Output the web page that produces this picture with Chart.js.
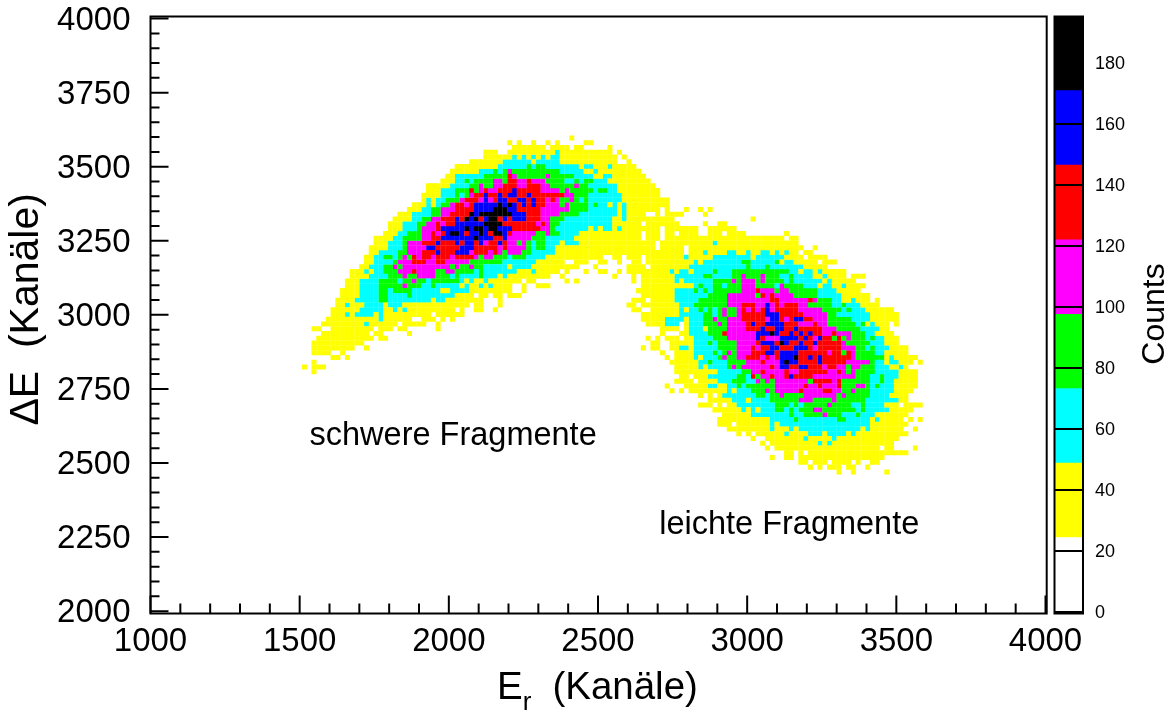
<!DOCTYPE html>
<html>
<head>
<meta charset="utf-8">
<title>Er - dE</title>
<script src="https://cdn.jsdelivr.net/npm/chart.js@4"></script>
<style>
  html, body { margin: 0; padding: 0; background: #fff; }
  #wrap { position: relative; width: 1172px; height: 715px; overflow: hidden; }
  #wrap canvas { position: absolute; top: 0; }
</style>
</head>
<body>
<div id="wrap">
  <canvas id="main" width="1172" height="715" style="left:0"></canvas>
  <canvas id="bar" width="122" height="715" style="left:1050px"></canvas>
</div>
<script>
const xMajorTicks = [1000, 1500, 2000, 2500, 3000, 3500, 4000];
const xMinorTicks = [1100, 1200, 1300, 1400, 1600, 1700, 1800, 1900, 2100, 2200, 2300, 2400, 2600, 2700, 2800, 2900, 3100, 3200, 3300, 3400, 3600, 3700, 3800, 3900];
const yMajorTicks = [2000, 2250, 2500, 2750, 3000, 3250, 3500, 3750, 4000];
const yMinorTicks = [2050, 2100, 2150, 2200, 2300, 2350, 2400, 2450, 2550, 2600, 2650, 2700, 2800, 2850, 2900, 2950, 3050, 3100, 3150, 3200, 3300, 3350, 3400, 3450, 3550, 3600, 3650, 3700, 3800, 3850, 3900, 3950];
const countTicks = [0, 20, 40, 60, 80, 100, 120, 140, 160, 180];
const countLevels = [0, 24.4, 48.8, 73.2, 97.6, 122, 146.5, 170.9, 195.3];
const levelCodes = ["w", "y", "c", "g", "m", "r", "b", "k"];
const levelColors = ["#ffffff", "#ffff00", "#00ffff", "#00ff00", "#ff00ff", "#ff0000", "#0000ff", "#000000"];

// histogram bins
const binStartX = 1012, binWidthX = 16;
const binStartY = 3605, binHeightY = 16.1;

// one string per row from the top: colour band + column range
const rowRuns = [
  "y87",
  "y74 y76 y79 y82 y84 y90-91",
  "y75-81 y83-86 y88-89 y95",
  "y69-71 y74-83 c84 y85-95 y97",
  "y69-74 c75 y76 c77 y78 c79 y80 c81 y82 c83-84 y85-96 y98",
  "y66-72 c73-78 y79 c80-84 y85-96 y99",
  "y63-71 c72-77 g78 c79 g80-81 c82-88 y89 c90-91 y92-94 c95 y96-100",
  "y62-67 c68-70 g71 c72 g73 m74 g75-84 c85-89 y90-91 c92 y93-101",
  "y61-62 c63-68 g69-73 r74 m75 g76-81 m82 g83-87 c88-91 y92-93 c94-95 y96-102",
  "y60-62 c63-64 g65 c66 g67-70 m71-72 g73 r74-75 m76-77 r78 m79-81 g82-85 c86-87 g88 c89 g90-91 c92-94 y95-103",
  "y57-61 c62-65 g66-67 m68 g69-70 m71-72 r73-75 m76-77 r78-80 m81-82 g83-87 m88 g89-90 c91-96 y97-104",
  "y57-59 c60-62 g63-65 r66 g67 m68 r69 m70-71 r72-74 b75 r76-80 m81-84 g85 m86 g87-91 c92 g93-94 c95-96 y97-105",
  "y56-59 c60-62 g63 c64 g65 m66 r67-68 b69 r70-71 b72 r73 b74-75 r76-77 b78 r79-85 m86-87 g88-90 c91-97 y98-105",
  "y56 c57 y58 c59-60 g61-63 m64 r65-67 m68 b69 m70 r71 b72-73 r74-75 b76-77 r78 b79 r80-81 m82 r83 m84 g85-86 m87 g88 c89 g90 c91-97 y98-107",
  "y54-56 c57 y58 c59 g60-61 m62 r63-64 m65 r66 b67-71 k72 b73 k74 b75 r76 b77 r78 b79 r80-81 m82-84 g85 m86 g87-90 c91 g92 c93-94 y95 c96 y97 c98 y99-107",
  "y53-55 c56-57 g58-59 m60-62 r63-66 b67-70 k71-73 b74-75 r76-80 m81-86 g87-90 c91-96 y97 c98 y99-105 y107 y111 y114 y116",
  "y51-53 c54-57 g58-59 m60-61 r62-65 k66 b67 k68-74 b75-77 r78-80 m81-84 g85-88 c89-96 y97 c98 y99-102 y105 y107-110 y115",
  "y50-53 c54-55 g56-57 m58-59 r60-62 b63 r64 k65 b66 k67 r68 b69 k70-71 r72 b73 r74 b75-77 r78-80 m81-82 g83-85 c86-95 y96-97 c98 y99-108 y125",
  "y49-51 c52-54 g55-56 m57-58 r59 m60 r61-62 b63-68 k69-72 r73-79 m80 r81 m82 g83-84 c85-95 y96-101 y103-109 y115 y118-119",
  "y49-51 c52-54 g55 m56-58 r59 b60-64 k65 b66 k67-68 b69 k70-71 b72-74 r75-80 m81-82 g83 c84-90 y91 c92 y93 c94-95 y96 c97 y98-105 y107-113 y116-121",
  "y48-50 c51-52 g53-55 m56-57 r58 m59 r60 b61 k62-63 b64 r65 b66-67 k68 b69 r70 k71-72 b73 r74 m75-79 g80-81 m82 g83-84 c85-88 y89-101 y103-105 y107-108 y110-113 y116-118 y120-123 y132",
  "y46-49 c50-51 g52-55 m56-57 r58-59 b60-66 k67 b68-70 r71-72 b73 m74-78 g79-81 c82-87 y88-101 y103-105 y107-131 y133-134",
  "y46-48 c49-51 g52 m53-55 r56-58 b59 r60-62 b63 r64 b65-66 r67 b68 m69 r70-71 b72 r73 m74-75 g76 m77 g78 c79 g80-81 c82-84 y85 c86-88 y89-104 y106-116 c117 y118-134",
  "y45-48 c49-51 g52 m53-56 b57-58 r59-63 b64-66 r67-71 m72 r73 m74-77 g78 c79 g80-81 c82-83 y84-104 y106-110 y112-135 y138",
  "y45-46 c47-50 g51-52 m53-55 r56-58 b59 r60-62 b63-65 m66 r67-69 m70 r71 m72 g73 m74-76 g77-78 c79-83 y84-110 y112-114 c115 y116-119 c120-121 y122-123 c124 y125-126 c127-128 y129 c130 y131 c132 y133-134 y136-137",
  "y44-45 c46-47 g48-49 c50 g51 m52 g53 r54 m55 r56-57 m58 r59-61 m62 r63-66 m67 g68 m69-70 g71-73 c74 g75-77 c78-81 y82-93 y96-97 y99-101 y103-110 c111 y112-116 c117-124 y125 c126-131 y132-135 y137-140",
  "y44-45 c46-49 g50 m51-53 r54-56 m57-58 r59-60 m61-65 g66-72 c73-79 y80-85 y88-90 y93-94 y97 y100-101 y103-112 c113 y114 c115-122 g123-124 c125-129 g130 y131 c132-133 y134-138 y140-142",
  "y43-44 c45-47 g48-49 m50 g51 m52-61 g62 m63 g64-65 m66 g67-68 c69-73 y74 c75-78 y79-88 y92 y99-102 y104-111 c112-123 g124 c125-127 g128 c129-135 y136-140",
  "y41-43 c44 y45 c46-47 g48-50 m51-53 r54 m55-58 g59-60 m61-62 g63-66 c67 g68 c69-75 y76-78 c79 y80-84 y86 y90 y93-94 y97 y99-107 c108 y109 c110-111 y112 c113-116 g117 c118-120 g121-132 c133-134 y135 c136-137 y138 c139 y140-144",
  "y41-44 c45-48 g49-51 m52 g53-54 m55-58 g59-61 c62 g63 c64-67 g68 c69-71 y72 c73 y74-82 y85 y96 y100 y102-108 c109-114 g115-116 c117-120 g121-122 m123 g124-126 m127 g128-130 c131-132 g133 c134-137 y138-139 c140 y141-144 y146-148",
  "y40-42 c43-46 g47-50 c51 g52-53 m54 g55-56 c57 g58-63 c64 y65 c66 y67-68 c69 y70-76 y78-79 y86 y88 y100 y102-108 c109 y110 c111-116 g117-120 m121 g122 m123-125 g126 m127 g128-131 c132 g133 c134-139 y140 c141 y142-146",
  "y40-42 c43-46 g47-51 m52 g53-55 c56-57 g58 c59-63 y64 c65 y66-67 c68 y69 c70 y71-74 y77 y80-82 y102-112 c113 g114 c115-116 g117-118 c119 g120-122 m123-125 g126-129 c130 m131 g132-135 c136-138 y139 c140-141 y142-143 c144 y145-148",
  "y39-42 c43-46 g47-48 c49 g50-53 c54-59 y60-61 c62-65 y66-74 y77 y101-108 c109-112 g113 c114 g115 c116 g117-122 m123-125 r126 m127-129 g130 m131-132 g133-138 c139-142 y143-147",
  "y39-42 c43-46 g47-48 c49-52 g53 c54-62 y63-66 y68-69 y71-72 y74-76 y102-108 c109-115 g116-119 m120-125 g126 r127 m128 r129 m130-133 g134-138 c139-143 y144-149",
  "y38-41 c42-46 g47-48 c49-57 y58 c59-60 y61-68 y72 y100-101 y102 y104-108 c109-113 g114-119 m120-128 r129-130 m131-136 r137 m138 g139-141 c142-143 y144-145 c146 y147-149 y151",
  "y38-39 c40 y41-43 c44-47 y48 c49-51 y52-65 y67-68 y72 y99-100 y102-109 c110-112 g113-119 m120-122 r123-125 m126-127 b128 m129 r130 m131 r132-134 m135-136 g137-141 c142-143 g144 c145-147 y148-151",
  "y37-42 c43-47 y48-49 c50 y51 c52 y53-62 y64 y67-68 y71 y100-101 y104-109 c110 y111 c112-113 g114 c115 g116 c117 g118 m119 g120-121 m122 r123 m124 r125 m126 r127 b128 m129 r130-134 m135-139 g140-143 c144 g145 c146-148 y149-154",
  "y37-39 c40 y41 c42-45 y46 c47 y48-57 y59-64 y102-109 c110-114 g115-116 c117 g118 m119 g120-121 m122 r123-127 b128-130 r131-135 m136-140 g141-142 c143-149 y150-155",
  "y36-46 c47 y48-53 y56-58 y60 y62 y102-106 c107-110 y111 c112-114 g115-116 m117 g118-119 m120-122 r123-127 m128 b129-130 r131 m132 r133 b134-135 r136-137 m138-140 g141-145 c146-149 y150-155",
  "y35-43 c44 y45-50 y52-56 y59 y103-106 c107-109 y111 c112-114 g115-117 m118 g119 m120-123 r124 b125 r126-127 b128-131 r132-134 m135-137 r138 m139-140 g141-146 c147 g148 y149 c150 y151-153 y155",
  "y33-34 y37-45 y47-49 y51-52 y59 y106-109 y111 c112-114 y115 g116-119 m120-123 r124-126 b127 r128-129 b130-131 r132-133 b134 r135-139 m140-142 g143-147 c148-151 y152-153",
  "y35-44 y46-47 y53 y106 y110-111 c112-115 g116-118 r119 m120-125 b126-128 k129 b130 r131-132 b133 r134 b135 r136 b137 r138-139 m140-141 r142 m143-145 g146-148 c149-150 y151-154",
  "y34-45 y47-48 y103 y105 y107-109 y111-112 c113-116 g117-119 m120-125 b126 r127 m128-130 b131-134 r135 b136 r137 m138 b139 r140-141 g142 r143 g144 m145 g146-148 c149 g150 c151-152 y153-155",
  "y33-43 y104-105 y108-112 c113-115 g116 c117 g118-121 m122-125 r126 b127-129 r130 k131 b132 r133-134 b135 r136-137 b138 r139-143 m144 g145-149 c150-152 y153-155",
  "y33-41 y44 y102 y104-105 y108-109 c110-111 y112 c113-117 g118-121 m122-124 r125 m126 r127-128 b129-130 r131-133 b134-136 r137 m138 r139-143 m144-146 g147-148 c149 g150 c151-153 y154-157",
  "y33-36 y39 y106 y109-112 c113-116 g117 c118 g119 m120 g121 m122-124 r125-127 b128-129 r130 b131-134 r135-140 m141 r142-143 g144 r145 m146 g147-150 c151-152 y153-157",
  "y37-38 y40 y107 y109-112 c113 y114 c115-117 g118 m119 g120-121 m122-123 r124-126 m127 r128 m129 r130 b131-133 k134 r135-136 b137 r138 b139 r140-145 m146 g147-152 y153 c154 y155-159",
  "y33 y108-113 c114-115 g116 c117-119 g120-123 m124-126 r127 m128-130 b131 k132 b133-134 r135-138 b139 r140-144 m145-149 g150 c151-152 y153 c154-155 y156-158 y160",
  "y31 y33-35 y109-113 c114 y115 c116-119 g120 m121 g122 m123-128 r129 m130 b131-132 r133-134 b135-136 r137-139 m140 r141-142 m143-144 g145 m146-147 g148-150 c151-153 y154-155 c156 y157",
  "y33 y109-117 c118-122 g123-124 m125-126 r127 m128-131 r132 m133-134 r135-140 m141-142 r143 m144 g145 m146 g147-150 c151-155 y156-159",
  "y110-111 y113-115 c116-121 g122-123 c124 r125 g126 m127-128 r129 m130-131 r132 b133 r134-137 m138-146 g147-149 c150-151 g152 c153-155 y156-159",
  "y109-112 y114-117 c118-120 g121-123 c124-125 m126 g127 m128 g129 m130-136 g137 r138-141 m142 r143 g144-149 c150-151 g152 c153-154 y155-159",
  "y107 y111-115 c116-117 y118-119 c120-121 g122 c123 g124-129 m130-135 r136 m137-138 r139 m140-142 r143 g144-146 m147-148 g149 c150 g151 c152-154 y155-159",
  "y108 y110 y112-119 c120 y121 c122-124 g125-127 m128 g129 m130-134 r135 m136-139 r140-141 m142-143 g144-145 m146 g147-149 c150-154 y155-158",
  "y114 y116 y118 c119-125 g126-127 c128 g129-130 m131 g132-135 m136-142 g143 m144 g145-149 c150-153 y154-157",
  "y116-120 c121-123 y124 c125-128 g129-134 m135-137 g138-141 m142 g143-148 c149-155 y156-157",
  "y114-116 y118 y120-121 c122-129 g130-132 c133 g134 c135 g136-140 m141 g142-145 c146-147 g148 c149-152 y153-155 y157-160",
  "y117-122 c123 y124 c125 y126 c127-129 g130-131 c132 g133 c134 g135-137 m138-139 g140-146 c147 g148 c149-153 y154-158",
  "y119-124 c125-132 g133 c134-135 g136-139 m140 g141-143 c144-146 g147 c148-150 y151-157",
  "y118-128 c129-133 g134 c135-142 g143-144 c145-149 y150 c151 y152-156 y158 y160",
  "y118-120 y122-128 c129 y130 c131-149 y150-157",
  "y120-128 c129 y130-132 c133 y134 c135-147 y148 c149 y150-156 y159",
  "y122 y124 y126-131 c132 y133-136 c137-139 y140 c141-144 y145 c146 y147-157",
  "y125 y128-135 c136 y137-141 c142 y143-155",
  "y127 y129-138 c139 y140 c141 y142-154",
  "y128 y130-151 y153-154 y159",
  "y132-133 y135 y137-157",
  "y129 y132-133 y135-152",
  "y135-136 y138-140 y142-145 y147 y150-151",
  "y137 y139 y141-143 y145-146 y149",
  "y143 y146 y153"
];

const annotations = [
  { text: "schwere Fragmente", x: 1533, y: 2560 },
  { text: "leichte Fragmente", x: 2705, y: 2260 }
];

const font = "'Liberation Sans', Arial, sans-serif";

// rows -> one cell map per row, later tokens paint over earlier ones
const levelPoints = {};
levelCodes.forEach(c => { levelPoints[c] = []; });
rowRuns.forEach((row, t) => {
  const cells = {};
  row.split(" ").forEach(tok => {
    const [a, b] = tok.slice(1).split("-").map(Number);
    for (let c = a; c <= (b === undefined ? a : b); c++) cells[c] = tok[0];
  });
  Object.keys(cells).forEach(c => {
    levelPoints[cells[c]].push({
      x: binStartX + (Number(c) + 0.5) * binWidthX,
      y: binStartY - (t + 0.5) * binHeightY
    });
  });
});

const mainDatasets = levelCodes.slice(1).map(code => ({
  label: code,
  data: levelPoints[code],
  backgroundColor: levelColors[levelCodes.indexOf(code)],
  borderWidth: 0,
  pointStyle: "rect",
  pointRadius: 3.55,
  pointHoverRadius: 3.55
}));

function drawFrame(chart) {
  const { ctx, chartArea: a } = chart;
  ctx.save();
  ctx.strokeStyle = "#000";
  ctx.lineWidth = 2;
  ctx.strokeRect(a.left, a.top, a.right - a.left, a.bottom - a.top);
  ctx.restore();
}

function noPadding(s) {
  s.paddingLeft = s.paddingRight = s.paddingTop = s.paddingBottom = 0;
}

// inward ticks and the texts inside the plot
const histoDecor = {
  id: "histoDecor",
  afterDraw(chart) {
    const { ctx, chartArea: a, scales: { x, y } } = chart;
    drawFrame(chart);
    ctx.save();
    ctx.strokeStyle = "#000";
    ctx.lineWidth = 2;
    ctx.beginPath();
    xMajorTicks.forEach(v => { const p = x.getPixelForValue(v); ctx.moveTo(p, a.bottom); ctx.lineTo(p, a.bottom - 18); });
    xMinorTicks.forEach(v => { const p = x.getPixelForValue(v); ctx.moveTo(p, a.bottom); ctx.lineTo(p, a.bottom - 10); });
    yMajorTicks.forEach(v => { const p = y.getPixelForValue(v); ctx.moveTo(a.left, p); ctx.lineTo(a.left + 18, p); });
    yMinorTicks.forEach(v => { const p = y.getPixelForValue(v); ctx.moveTo(a.left, p); ctx.lineTo(a.left + 9, p); });
    ctx.stroke();

    ctx.fillStyle = "#000";
    ctx.textBaseline = "alphabetic";
    ctx.font = "32.5px " + font;
    annotations.forEach(t => ctx.fillText(t.text, x.getPixelForValue(t.x), y.getPixelForValue(t.y)));

    // x axis title with subscript r
    ctx.font = "38.5px " + font;
    ctx.fillText("E", 497, 699);
    const ew = ctx.measureText("E").width;
    ctx.font = "26px " + font;
    ctx.fillText("r", 497 + ew, 710);
    ctx.font = "38.5px " + font;
    ctx.fillText(" (Kanäle)", 497 + ew + 19, 699);
    ctx.restore();
  }
};

new Chart(document.getElementById("main"), {
  type: "scatter",
  data: { datasets: mainDatasets },
  plugins: [histoDecor],
  options: {
    responsive: false,
    animation: false,
    events: [],
    parsing: false,
    layout: { padding: { top: 16.5, right: 125.3, left: 0, bottom: 0 } },
    plugins: { legend: { display: false }, tooltip: { enabled: false } },
    scales: {
      x: {
        type: "linear",
        min: 1000,
        max: 4004,
        grid: { display: false, drawTicks: false },
        border: { display: false },
        afterBuildTicks: s => { s.ticks = xMajorTicks.map(v => ({ value: v })); },
        afterFit: s => { s.height = 101.5; noPadding(s); },
        ticks: {
          autoSkip: false,
          maxRotation: 0,
          padding: 9,
          color: "#000",
          font: { family: font, size: 33 },
          callback: v => String(v)
        }
      },
      y: {
        type: "linear",
        min: 1992,
        max: 4007,
        grid: { display: false, drawTicks: false },
        border: { display: false },
        afterBuildTicks: s => { s.ticks = yMajorTicks.map(v => ({ value: v })); },
        afterFit: s => { s.width = 150.5; noPadding(s); },
        title: {
          display: true,
          text: " ΔE  (Kanäle)",
          color: "#000",
          font: { family: font, size: 41 },
          padding: { top: 2, bottom: 0 }
        },
        ticks: {
          autoSkip: false,
          padding: 20,
          labelOffset: 2,
          color: "#000",
          font: { family: font, size: 33 },
          callback: v => String(v)
        }
      }
    }
  }
});

const barDatasets = levelColors.map((color, i) => ({
  label: levelCodes[i],
  data: [countLevels[i + 1] - countLevels[i]],
  backgroundColor: color,
  borderWidth: 0,
  barPercentage: 1,
  categoryPercentage: 1,
  stack: "z"
}));

const barDecor = {
  id: "barDecor",
  afterDraw(chart) {
    const { ctx } = chart;
    drawFrame(chart);
    ctx.save();
    ctx.translate(114, 314);
    ctx.rotate(-Math.PI / 2);
    ctx.font = "32px " + font;
    ctx.fillStyle = "#000";
    ctx.textAlign = "center";
    ctx.fillText("Counts", 0, 0);
    ctx.restore();
  }
};

new Chart(document.getElementById("bar"), {
  type: "bar",
  data: { labels: ["Counts"], datasets: barDatasets },
  plugins: [barDecor],
  options: {
    responsive: false,
    animation: false,
    events: [],
    layout: { padding: { top: 16.5, left: 4.5, right: 0, bottom: 101.5 } },
    plugins: { legend: { display: false }, tooltip: { enabled: false } },
    scales: {
      x: {
        stacked: true,
        display: false
      },
      y: {
        stacked: true,
        position: "right",
        min: -0.5,
        max: 195.2,
        grid: { color: "#000", lineWidth: 2, z: 1, drawTicks: false },
        border: { display: false },
        afterBuildTicks: s => { s.ticks = countTicks.map(v => ({ value: v })); },
        afterFit: s => { s.width = 89; noPadding(s); },
        ticks: {
          autoSkip: false,
          padding: 12,
          labelOffset: 1,
          color: "#000",
          font: { family: font, size: 18 },
          callback: v => String(v)
        }
      }
    }
  }
});
</script>
</body>
</html>
